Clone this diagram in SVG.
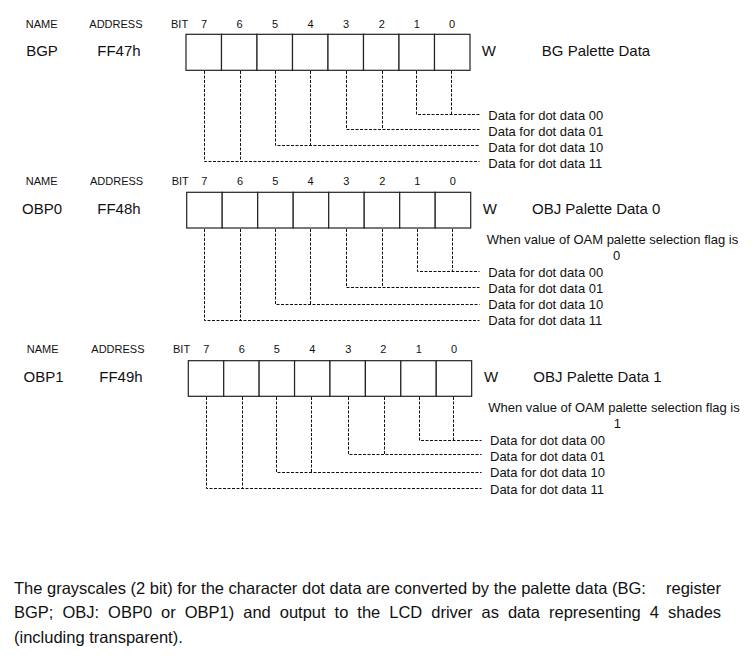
<svg xmlns="http://www.w3.org/2000/svg" width="756" height="663" viewBox="0 0 756 663">
<style>
text{font-family:"Liberation Sans",Arial,sans-serif;fill:#111}
.h{font-size:11px}
.m{text-anchor:middle}
.b{font-size:15px}
.l{font-size:13px}
.p{font-size:16.5px}
.cell{fill:#fff;stroke:#222;stroke-width:1.2}
.d{fill:none;stroke:#111;stroke-width:1;stroke-dasharray:3 1.5}
</style>
<rect width="756" height="663" fill="#fff"/>

<g id="bgp">
<text class="h" x="25.7" y="27.5">NAME</text>
<text class="h" x="89.3" y="27.5">ADDRESS</text>
<text class="h" x="171" y="27.5">BIT</text>
<g class="h m">
<text x="204" y="27.5">7</text><text x="239.6" y="27.5">6</text><text x="275" y="27.5">5</text><text x="310.5" y="27.5">4</text><text x="346" y="27.5">3</text><text x="381.8" y="27.5">2</text><text x="416.8" y="27.5">1</text><text x="452" y="27.5">0</text>
</g>
<text class="b m" x="42" y="56.4">BGP</text>
<text class="b" x="97.3" y="55.8">FF47h</text>
<g>
<rect class="cell" x="186" y="34.3" width="35.5" height="36"/><rect class="cell" x="221.5" y="34.3" width="35.5" height="36"/><rect class="cell" x="257" y="34.3" width="35.5" height="36"/><rect class="cell" x="292.5" y="34.3" width="35.5" height="36"/><rect class="cell" x="328" y="34.3" width="35.5" height="36"/><rect class="cell" x="363.5" y="34.3" width="35.5" height="36"/><rect class="cell" x="399" y="34.3" width="35.5" height="36"/><rect class="cell" x="434.5" y="34.3" width="35.5" height="36"/>
</g>
<text class="b" x="481.7" y="56">W</text>
<text class="b m" x="596" y="56">BG Palette Data</text>
<g class="l">
<text x="488.3" y="120">Data for dot data 00</text>
<text x="488.3" y="135.7">Data for dot data 01</text>
<text x="488.3" y="151.7">Data for dot data 10</text>
<text x="488.3" y="167.7">Data for dot data 11</text>
</g>
</g>

<g id="obp0">
<text class="h" x="25.7" y="185.3">NAME</text>
<text class="h" x="90" y="185.3">ADDRESS</text>
<text class="h" x="171.7" y="185.3">BIT</text>
<g class="h m">
<text x="204.4" y="185.3">7</text><text x="240" y="185.3">6</text><text x="275.4" y="185.3">5</text><text x="310.6" y="185.3">4</text><text x="346.4" y="185.3">3</text><text x="382.2" y="185.3">2</text><text x="417.4" y="185.3">1</text><text x="452.8" y="185.3">0</text>
</g>
<text class="b m" x="42" y="214.3">OBP0</text>
<text class="b" x="97.3" y="213.9">FF48h</text>
<g>
<rect class="cell" x="186.7" y="192.3" width="35.5" height="35.7"/><rect class="cell" x="222.2" y="192.3" width="35.5" height="35.7"/><rect class="cell" x="257.7" y="192.3" width="35.5" height="35.7"/><rect class="cell" x="293.2" y="192.3" width="35.5" height="35.7"/><rect class="cell" x="328.7" y="192.3" width="35.5" height="35.7"/><rect class="cell" x="364.2" y="192.3" width="35.5" height="35.7"/><rect class="cell" x="399.7" y="192.3" width="35.5" height="35.7"/><rect class="cell" x="435.2" y="192.3" width="35.5" height="35.7"/>
</g>
<text class="b" x="482.7" y="214.3">W</text>
<text class="b m" x="596.2" y="214.3">OBJ Palette Data 0</text>
<text class="l" x="486.7" y="244">When value of OAM palette selection flag is</text>
<text class="l m" x="616.7" y="260">0</text>
<g class="l">
<text x="488.3" y="276.8">Data for dot data 00</text>
<text x="488.3" y="292.8">Data for dot data 01</text>
<text x="488.3" y="309">Data for dot data 10</text>
<text x="488.3" y="325.3">Data for dot data 11</text>
</g>
</g>

<g id="obp1">
<text class="h" x="26.7" y="353.3">NAME</text>
<text class="h" x="91.3" y="353.3">ADDRESS</text>
<text class="h" x="173" y="353.3">BIT</text>
<g class="h m">
<text x="206.3" y="353.3">7</text><text x="241.7" y="353.3">6</text><text x="276.8" y="353.3">5</text><text x="312.3" y="353.3">4</text><text x="348.2" y="353.3">3</text><text x="383.4" y="353.3">2</text><text x="418.8" y="353.3">1</text><text x="454" y="353.3">0</text>
</g>
<text class="b m" x="43.6" y="381.8">OBP1</text>
<text class="b" x="99.3" y="381.6">FF49h</text>
<g>
<rect class="cell" x="188.3" y="360.7" width="35.42" height="35.6"/><rect class="cell" x="223.72" y="360.7" width="35.42" height="35.6"/><rect class="cell" x="259.14" y="360.7" width="35.42" height="35.6"/><rect class="cell" x="294.56" y="360.7" width="35.42" height="35.6"/><rect class="cell" x="329.98" y="360.7" width="35.42" height="35.6"/><rect class="cell" x="365.4" y="360.7" width="35.42" height="35.6"/><rect class="cell" x="400.82" y="360.7" width="35.42" height="35.6"/><rect class="cell" x="436.24" y="360.7" width="35.42" height="35.6"/>
</g>
<text class="b" x="484" y="382">W</text>
<text class="b m" x="597.5" y="382">OBJ Palette Data 1</text>
<text class="l" x="488.3" y="411.7">When value of OAM palette selection flag is</text>
<text class="l m" x="617.3" y="427.7">1</text>
<g class="l">
<text x="490" y="445.4">Data for dot data 00</text>
<text x="490" y="461.1">Data for dot data 01</text>
<text x="490" y="477.4">Data for dot data 10</text>
<text x="490" y="493.7">Data for dot data 11</text>
</g>
</g>

<g id="connectors" class="d">
<path d="M416.5 71V114.5H479.5M451.5 71V114.5"/>
<path d="M346.5 71V129.5H479.5M382.5 71V129.5"/>
<path d="M275.5 71V145.5H479.5M310.5 71V145.5"/>
<path d="M204.5 71V161.5H479.5M240.5 71V161.5"/>

<path d="M417.5 229V271.5H479.5M452.5 229V271.5"/>
<path d="M346.5 229V287.5H479.5M382.5 229V287.5"/>
<path d="M275.5 229V304.5H479.5M310.5 229V304.5"/>
<path d="M204.5 229V320.5H479.5M240.5 229V320.5"/>

<path d="M419.5 397V440.5H481.5M453.5 397V440.5"/>
<path d="M348.5 397V454.5H481.5M384.5 397V454.5"/>
<path d="M276.5 397V472.5H481.5M311.5 397V472.5"/>
<path d="M206.5 397V488.5H481.5M242.5 397V488.5"/>
</g>

<g id="paragraph" class="p">
<text x="14" y="594.3">The grayscales (2 bit) for the character dot data are converted by the palette data (BG:</text>
<text x="721" y="594.3" text-anchor="end">register</text>
<text x="14" y="618.3" word-spacing="4.4">BGP; OBJ: OBP0 or OBP1) and output to the LCD driver as data representing 4 shades</text>
<text x="14" y="642.5">(including transparent).</text>
</g>
</svg>
